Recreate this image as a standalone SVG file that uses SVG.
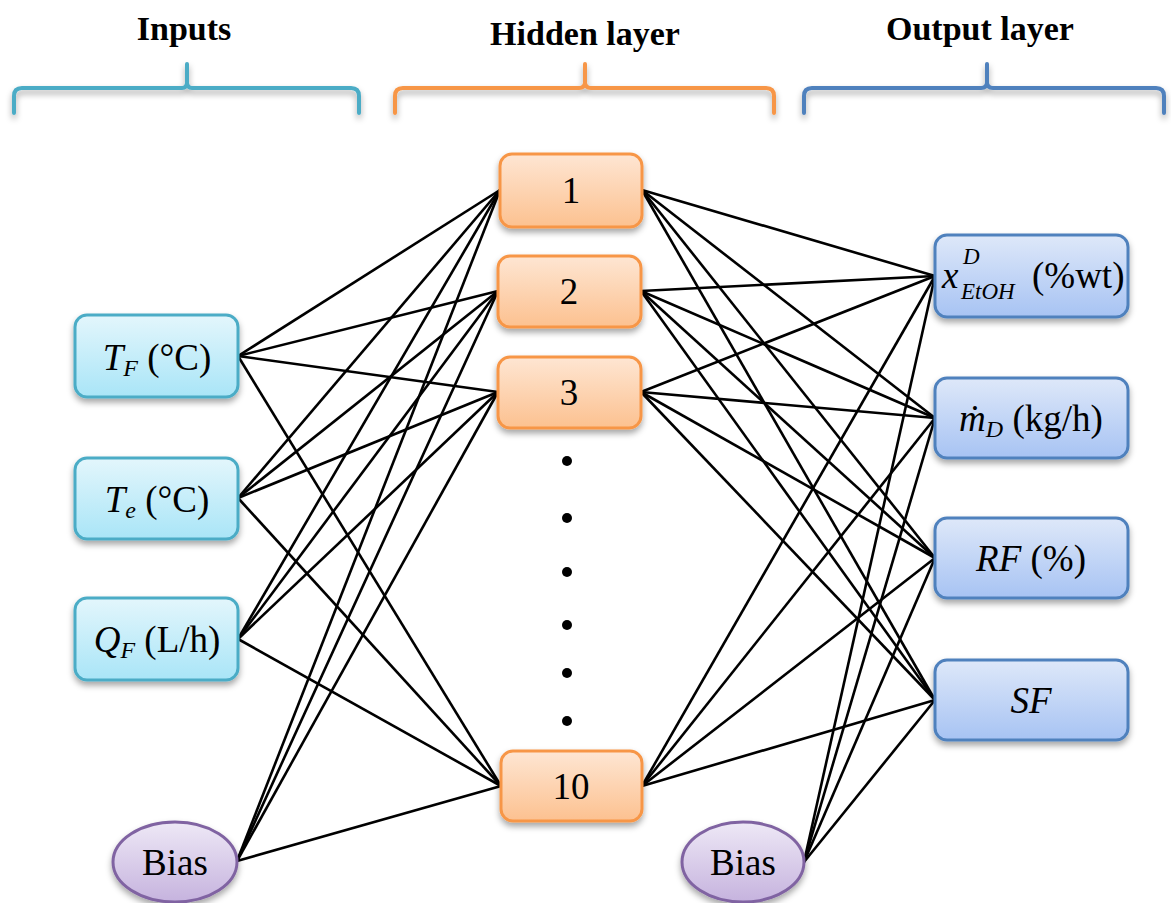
<svg xmlns="http://www.w3.org/2000/svg" width="1171" height="903" viewBox="0 0 1171 903">
<defs>
<linearGradient id="gIn" x1="0" y1="0" x2="0" y2="1"><stop offset="0" stop-color="#e3f6fc"/><stop offset="1" stop-color="#a9e5f7"/></linearGradient>
<linearGradient id="gHid" x1="0" y1="0" x2="0" y2="1"><stop offset="0" stop-color="#fee6d3"/><stop offset="1" stop-color="#fcc190"/></linearGradient>
<linearGradient id="gOut" x1="0" y1="0" x2="0" y2="1"><stop offset="0" stop-color="#dee8f9"/><stop offset="1" stop-color="#a7c3f3"/></linearGradient>
<linearGradient id="gBias" x1="0" y1="0" x2="0" y2="1"><stop offset="0" stop-color="#eee8f6"/><stop offset="1" stop-color="#c6b3de"/></linearGradient>
<filter id="sh" x="-20%" y="-20%" width="140%" height="160%"><feDropShadow dx="0" dy="4" stdDeviation="3" flood-color="#000" flood-opacity="0.35"/></filter>
</defs>
<style>
text{font-family:"Liberation Serif","Times New Roman",serif;fill:#000}
.title{font-size:34px;font-weight:bold}
.lbl{font-size:37px}
.it{font-style:italic}
.brace{fill:none;stroke-width:4;stroke-linecap:round;stroke-linejoin:round;filter:url(#sh)}
.in{fill:url(#gIn);stroke:#4bacc6;stroke-width:3;filter:url(#sh)}
.hid{fill:url(#gHid);stroke:#f79646;stroke-width:3;filter:url(#sh)}
.out{fill:url(#gOut);stroke:#4f81bd;stroke-width:3;filter:url(#sh)}
.bias{fill:url(#gBias);stroke:#8064a2;stroke-width:3;filter:url(#sh)}
.conn line{stroke:#000;stroke-width:2.6}
</style>

<g id="headers">
<text class="title" x="184" y="40" text-anchor="middle">Inputs</text>
<text class="title" x="585" y="45" text-anchor="middle">Hidden layer</text>
<text class="title" x="980" y="40" text-anchor="middle">Output layer</text>
<path class="brace" stroke="#4bacc6" d="M14,113 V96 Q14,88 22,88 H182 Q187,88 187,82 V64 V82 Q187,88 192,88 H351 Q359,88 359,96 V113"/>
<path class="brace" stroke="#f79646" d="M395,113 V96 Q395,88 403,88 H579 Q585,88 585,82 V64 V82 Q585,88 591,88 H766 Q774,88 774,96 V113"/>
<path class="brace" stroke="#4f81bd" d="M804,113 V96 Q804,88 812,88 H981 Q987,88 987,82 V64 V82 Q987,88 993,88 H1156 Q1164,88 1164,96 V113"/>
</g>

<g id="connectors" class="conn">
<line x1="238" y1="356" x2="500" y2="190"/>
<line x1="238" y1="356" x2="498" y2="291"/>
<line x1="238" y1="356" x2="498" y2="392"/>
<line x1="238" y1="356" x2="501" y2="786"/>
<line x1="238" y1="498" x2="500" y2="190"/>
<line x1="238" y1="498" x2="498" y2="291"/>
<line x1="238" y1="498" x2="498" y2="392"/>
<line x1="238" y1="498" x2="501" y2="786"/>
<line x1="238" y1="639" x2="500" y2="190"/>
<line x1="238" y1="639" x2="498" y2="291"/>
<line x1="238" y1="639" x2="498" y2="392"/>
<line x1="238" y1="639" x2="501" y2="786"/>
<line x1="237" y1="861" x2="500" y2="190"/>
<line x1="237" y1="861" x2="498" y2="291"/>
<line x1="237" y1="861" x2="498" y2="392"/>
<line x1="237" y1="861" x2="501" y2="786"/>
<line x1="642" y1="190" x2="935" y2="276"/>
<line x1="642" y1="190" x2="935" y2="418"/>
<line x1="642" y1="190" x2="935" y2="558"/>
<line x1="642" y1="190" x2="935" y2="700"/>
<line x1="641" y1="291" x2="935" y2="276"/>
<line x1="641" y1="291" x2="935" y2="418"/>
<line x1="641" y1="291" x2="935" y2="558"/>
<line x1="641" y1="291" x2="935" y2="700"/>
<line x1="641" y1="392" x2="935" y2="276"/>
<line x1="641" y1="392" x2="935" y2="418"/>
<line x1="641" y1="392" x2="935" y2="558"/>
<line x1="641" y1="392" x2="935" y2="700"/>
<line x1="642" y1="786" x2="935" y2="276"/>
<line x1="642" y1="786" x2="935" y2="418"/>
<line x1="642" y1="786" x2="935" y2="558"/>
<line x1="642" y1="786" x2="935" y2="700"/>
<line x1="804" y1="862" x2="935" y2="276"/>
<line x1="804" y1="862" x2="935" y2="418"/>
<line x1="804" y1="862" x2="935" y2="558"/>
<line x1="804" y1="862" x2="935" y2="700"/>
</g>

<g id="in-TF">
<rect class="in" x="75" y="315" width="163" height="82" rx="12"/>
<text class="lbl" x="157" y="370" text-anchor="middle"><tspan class="it">T</tspan><tspan class="it" font-size="24" dy="6">F</tspan><tspan dy="-6"> (°C)</tspan></text>
</g>
<g id="in-Te">
<rect class="in" x="75" y="458" width="163" height="81" rx="12"/>
<text class="lbl" x="157" y="512" text-anchor="middle"><tspan class="it">T</tspan><tspan class="it" font-size="24" dy="6">e</tspan><tspan dy="-6"> (°C)</tspan></text>
</g>
<g id="in-QF">
<rect class="in" x="75" y="598" width="163" height="82" rx="12"/>
<text class="lbl" x="157" y="652" text-anchor="middle"><tspan class="it">Q</tspan><tspan class="it" font-size="24" dy="6">F</tspan><tspan dy="-6"> (L/h)</tspan></text>
</g>
<g id="in-bias">
<ellipse class="bias" cx="175" cy="862" rx="62" ry="40"/>
<text class="lbl" x="175" y="875" text-anchor="middle">Bias</text>
</g>

<g id="h1">
<rect class="hid" x="500" y="154" width="142" height="73" rx="12"/>
<text class="lbl" x="571" y="203" text-anchor="middle">1</text>
</g>
<g id="h2">
<rect class="hid" x="498" y="256" width="143" height="71" rx="12"/>
<text class="lbl" x="569" y="304" text-anchor="middle">2</text>
</g>
<g id="h3">
<rect class="hid" x="498" y="357" width="143" height="71" rx="12"/>
<text class="lbl" x="569" y="405" text-anchor="middle">3</text>
</g>
<g id="dots">
<circle cx="567" cy="461" r="5"/>
<circle cx="567" cy="518" r="5"/>
<circle cx="567" cy="572" r="5"/>
<circle cx="567" cy="625" r="5"/>
<circle cx="567" cy="673" r="5"/>
<circle cx="567" cy="721" r="5"/>
</g>
<g id="h10">
<rect class="hid" x="501" y="751" width="141" height="70" rx="12"/>
<text class="lbl" x="571" y="799" text-anchor="middle">10</text>
</g>

<g id="out-x">
<rect class="out" x="935" y="235" width="193" height="82" rx="12"/>
<text class="lbl it" x="942" y="288">x</text>
<text class="it" font-size="23" x="963" y="264">D</text>
<text class="it" font-size="23" x="961" y="299">EtOH</text>
<text class="lbl" x="1032" y="288">(%wt)</text>
</g>
<g id="out-m">
<rect class="out" x="935" y="378" width="193" height="80" rx="12"/>
<text class="lbl" x="1031" y="431" text-anchor="middle"><tspan class="it">ṁ</tspan><tspan class="it" font-size="24" dy="6">D</tspan><tspan dy="-6"> (kg/h)</tspan></text>
</g>
<g id="out-RF">
<rect class="out" x="935" y="518" width="193" height="80" rx="12"/>
<text class="lbl" x="1031" y="571" text-anchor="middle"><tspan class="it">RF</tspan> (%)</text>
</g>
<g id="out-SF">
<rect class="out" x="935" y="660" width="193" height="80" rx="12"/>
<text class="lbl it" x="1031" y="713" text-anchor="middle">SF</text>
</g>
<g id="out-bias">
<ellipse class="bias" cx="743" cy="862" rx="61" ry="40"/>
<text class="lbl" x="743" y="875" text-anchor="middle">Bias</text>
</g>
</svg>
